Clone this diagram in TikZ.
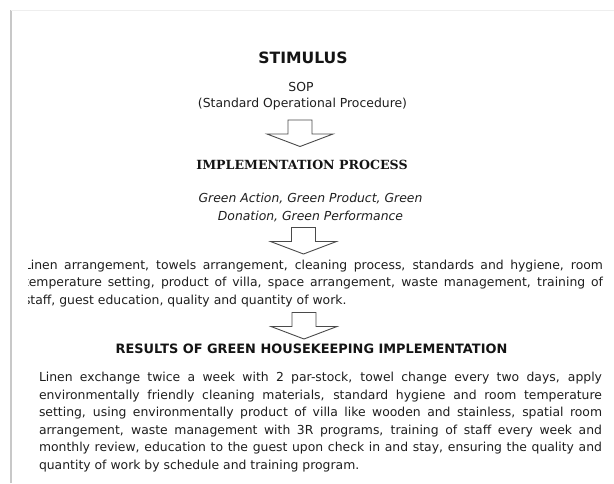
\documentclass[tikz,border=0pt]{standalone}
\usepackage{fontspec}
\setmainfont{DejaVu Sans}
\newfontfamily\titleserif{DejaVu Serif}
\definecolor{txt}{HTML}{141414}
\definecolor{bodytxt}{HTML}{1E1E1E}
\definecolor{arrowline}{HTML}{4A4A4A}
\definecolor{frameleft}{HTML}{C8C8C8}
\definecolor{frametop}{HTML}{EEEEEE}
\begin{document}
\begin{tikzpicture}[x=1pt,y=-1pt,
  every node/.style={inner sep=0pt, outer sep=0pt},
  titlesans/.style={font=\fontsize{15.6}{18}\selectfont\bfseries, text=txt, anchor=base},
  titleserifb/.style={font=\fontsize{12.6}{15}\selectfont\titleserif\bfseries, text=txt, anchor=base},
  titleres/.style={font=\fontsize{12.9}{15}\selectfont\bfseries, text=txt, anchor=base},
  line/.style={font=\fontsize{12.4}{17.5}\selectfont, text=bodytxt, anchor=base},
  para/.style={font=\fontsize{12.4}{17.5}\selectfont, text=bodytxt, anchor=base west, align=justify},
  arrowstyle/.style={draw=arrowline, line width=0.9pt, fill=white, line join=miter},
  blockarrow/.pic={
    \path[arrowstyle] (-12,0) -- (12,0) -- (12,14) -- (33,14) -- (0,26.5)
      -- (-33,14) -- (-12,14) -- cycle;
  }
]
\useasboundingbox (0,0) rectangle (614,483);
% frame edges
\draw[frameleft, line width=2pt] (11,483) -- (11,10);
\draw[frametop, line width=1pt] (11,10) -- (614,10);

\node[titlesans] (stim) at (303,63.7) {STIMULUS};
\node[line] (sop) at (301,91.5) {SOP};
\node[line] (sopfull) at (302.5,107.5) {(Standard Operational Procedure)};
\pic (a1) at (300,120) {blockarrow};
\node[titleserifb] (impl) at (302,169.6) {IMPLEMENTATION PROCESS};
\node[line, font=\fontsize{12.4}{17.5}\selectfont\itshape] (green1) at (310.5,202.5) {Green Action, Green Product, Green};
\node[line, font=\fontsize{12.4}{17.5}\selectfont\itshape] (green2) at (310.5,220) {Donation, Green Performance};
\pic (a2) at (303.5,227.5) {blockarrow};
\begin{scope}
\clip (28,250) rectangle (614,312);
\node[para, text width=579pt] (proc) at (24,269) {Linen arrangement, towels arrangement, cleaning process, standards and hygiene, room\linebreak
temperature setting, product of villa, space arrangement, waste management, training of\linebreak
staff, guest education, quality and quantity of work.};
\end{scope}
\pic (a3) at (304,312.5) {blockarrow};
\node[titleres] (res) at (311.5,353.7) {RESULTS OF GREEN HOUSEKEEPING IMPLEMENTATION};
\node[para, text width=563pt] (result) at (39,381.5) {Linen exchange twice a week with 2 par-stock, towel change every two days, apply\linebreak
environmentally friendly cleaning materials, standard hygiene and room temperature\linebreak
setting, using environmentally product of villa like wooden and stainless, spatial room\linebreak
arrangement, waste management with 3R programs, training of staff every week and\linebreak
monthly review, education to the guest upon check in and stay, ensuring the quality and\linebreak
quantity of work by schedule and training program.};
\end{tikzpicture}
\end{document}
